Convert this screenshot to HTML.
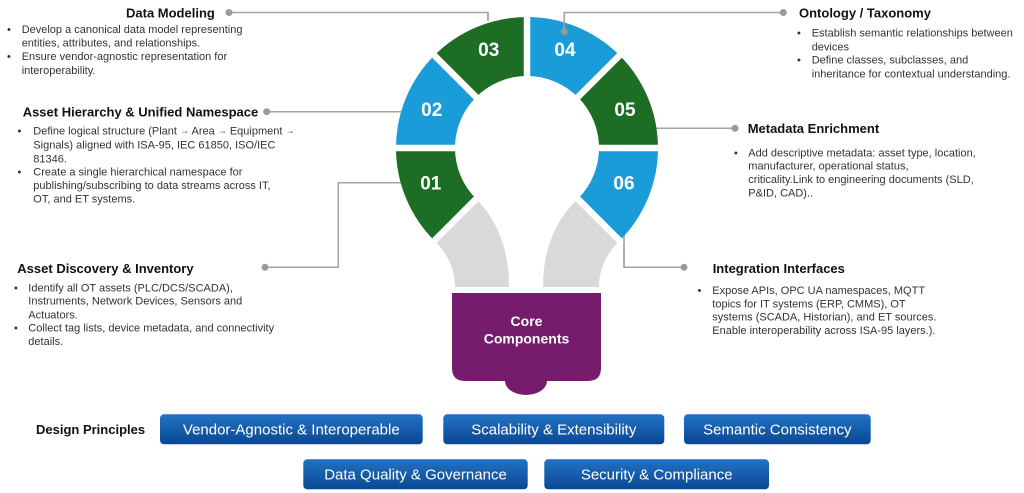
<!DOCTYPE html>
<html>
<head>
<meta charset="utf-8">
<style>
  html,body{margin:0;padding:0;background:#fff;}
  body{width:1024px;height:493px;overflow:hidden;}
  svg{display:block;}
  .t{font-family:"Liberation Sans",Arial,sans-serif;font-weight:bold;font-size:13px;fill:#111;}
  .b{font-family:"Liberation Sans",Arial,sans-serif;font-size:11px;fill:#333;}
  .n{font-family:"Liberation Sans",Arial,sans-serif;font-weight:bold;font-size:19px;fill:#fff;}
  .c{font-family:"Liberation Sans",Arial,sans-serif;font-weight:bold;font-size:14px;fill:#fff;}
  .btn{font-family:"Liberation Sans",Arial,sans-serif;font-size:15px;fill:#fff;}
  .ar{font-size:9px;}
</style>
</head>
<body>
<svg width="1024" height="493" viewBox="0 0 1024 493" xmlns="http://www.w3.org/2000/svg">
  <defs>
    <linearGradient id="bg" x1="0" y1="0" x2="0" y2="1">
      <stop offset="0" stop-color="#2273c4"/>
      <stop offset="1" stop-color="#0a4793"/>
    </linearGradient>
  </defs>

  <!-- connectors (under segments) -->
  <g stroke="#a3a3a3" stroke-width="1.5" fill="none">
    <polyline points="232,12.5 488,12.5 488,21"/>
    <polyline points="564.3,31.7 564.3,12.5 783,12.5"/>
    <polyline points="267,111.7 401,111.7"/>
    <polyline points="265,267.3 338.3,267.3 338.3,182.7 401,182.7"/>
    <polyline points="656,128.3 735,128.3"/>
    <polyline points="624,228 624,267.3 684,267.3"/>
  </g>

  <!-- gray neck -->
  <path d="M434.37,240.63 L476.09,198.91 Q509,232 509,287 L455,287 Q455,261 434.37,240.63 Z" fill="#d9d9d9"/>
  <path d="M619.63,240.63 L577.91,198.91 Q543,232 543,287 L599,287 Q599,261 619.63,240.63 Z" fill="#d9d9d9"/>

  <!-- ring segments -->
  <path d="M527,17 A131,131 0 0 0 434.37,55.37 L476.09,97.09 A72,72 0 0 1 527,76 Z" fill="#1e6d25"/>
  <path d="M619.63,55.37 A131,131 0 0 0 527,17 L527,76 A72,72 0 0 1 577.91,97.09 Z" fill="#199cd8"/>
  <path d="M434.37,55.37 A131,131 0 0 0 396,148 L455,148 A72,72 0 0 1 476.09,97.09 Z" fill="#199cd8"/>
  <path d="M658,148 A131,131 0 0 0 619.63,55.37 L577.91,97.09 A72,72 0 0 1 599,148 Z" fill="#1e6d25"/>
  <path d="M396,148 A131,131 0 0 0 434.37,240.63 L476.09,198.91 A72,72 0 0 1 455,148 Z" fill="#1e6d25"/>
  <path d="M619.63,240.63 A131,131 0 0 0 658,148 L599,148 A72,72 0 0 1 577.91,198.91 Z" fill="#199cd8"/>

  <!-- gaps -->
  <g stroke="#fff" stroke-width="6.5">
    <line x1="527" y1="148" x2="527" y2="12"/>
    <line x1="392" y1="148" x2="662" y2="148"/>
    <line x1="527" y1="148" x2="431" y2="52"/>
    <line x1="527" y1="148" x2="623" y2="52"/>
    <line x1="527" y1="148" x2="431" y2="244"/>
    <line x1="527" y1="148" x2="623" y2="244"/>
  </g>

  <!-- dots -->
  <g fill="#9a9a9a">
    <circle cx="229" cy="12.5" r="3.5"/>
    <circle cx="564.3" cy="31.7" r="3.5"/>
    <circle cx="783.3" cy="12.5" r="3.5"/>
    <circle cx="266.7" cy="111.7" r="3.5"/>
    <circle cx="265" cy="267.3" r="3.5"/>
    <circle cx="735" cy="128.3" r="3.5"/>
    <circle cx="684" cy="267.3" r="3.5"/>
  </g>
  <!-- connector stubs over segments -->
  <g stroke="#a3a3a3" stroke-width="1.5" fill="none">
    <line x1="488" y1="12.5" x2="488" y2="20"/>
    <line x1="564.3" y1="12.5" x2="564.3" y2="31"/>
    <line x1="624" y1="236" x2="624" y2="267.3"/>
  </g>

  <!-- numbers -->
  <text class="n" x="488.7" y="55.8" text-anchor="middle">03</text>
  <text class="n" x="565" y="55.8" text-anchor="middle">04</text>
  <text class="n" x="431.7" y="116.1" text-anchor="middle">02</text>
  <text class="n" x="625" y="116.1" text-anchor="middle">05</text>
  <text class="n" x="430.8" y="189.5" text-anchor="middle">01</text>
  <text class="n" x="624" y="189.5" text-anchor="middle">06</text>

  <!-- purple base -->
  <ellipse cx="526" cy="381" rx="21" ry="14" fill="#761c6c"/>
  <path d="M452,293 L601,293 L601,368 Q601,381 588,381 L465,381 Q452,381 452,368 Z" fill="#761c6c"/>
  <text class="c" x="526.5" y="326" text-anchor="middle">Core</text>
  <text class="c" x="526.5" y="343.5" text-anchor="middle">Components</text>

  <!-- Data Modeling -->
  <text class="t" x="126" y="17.3">Data Modeling</text>
  <text class="b" x="7" y="33">•</text>
  <text class="b" x="21.7" y="33">Develop a canonical data model representing</text>
  <text class="b" x="21.7" y="46.7">entities, attributes, and relationships.</text>
  <text class="b" x="7" y="60">•</text>
  <text class="b" x="21.7" y="60">Ensure vendor-agnostic representation for</text>
  <text class="b" x="21.7" y="74">interoperability.</text>

  <!-- Asset Hierarchy -->
  <text class="t" x="22.7" y="116.3">Asset Hierarchy &amp; Unified Namespace</text>
  <text class="b" x="17.5" y="134.7">•</text>
  <text class="b" x="33.3" y="134.7">Define logical structure (Plant <tspan class="ar" dy="-1">→</tspan><tspan dy="1"> Area </tspan><tspan class="ar" dy="-1">→</tspan><tspan dy="1"> Equipment </tspan><tspan class="ar" dy="-1">→</tspan></text>
  <text class="b" x="33.3" y="148.3">Signals) aligned with ISA-95, IEC 61850, ISO/IEC</text>
  <text class="b" x="33.3" y="162.3">81346.</text>
  <text class="b" x="17.5" y="175.7">•</text>
  <text class="b" x="33.3" y="175.7">Create a single hierarchical namespace for</text>
  <text class="b" x="33.3" y="189">publishing/subscribing to data streams across IT,</text>
  <text class="b" x="33.3" y="202.3">OT, and ET systems.</text>

  <!-- Asset Discovery -->
  <text class="t" x="17.3" y="272.9">Asset Discovery &amp; Inventory</text>
  <text class="b" x="14" y="291.7">•</text>
  <text class="b" x="28.3" y="291.7">Identify all OT assets (PLC/DCS/SCADA),</text>
  <text class="b" x="28.3" y="304.7">Instruments, Network Devices, Sensors and</text>
  <text class="b" x="28.3" y="318.3">Actuators.</text>
  <text class="b" x="14" y="331.7">•</text>
  <text class="b" x="28.3" y="331.7">Collect tag lists, device metadata, and connectivity</text>
  <text class="b" x="28.3" y="345">details.</text>

  <!-- Ontology -->
  <text class="t" x="799" y="17.3">Ontology / Taxonomy</text>
  <text class="b" x="797" y="36.3">•</text>
  <text class="b" x="811.7" y="36.3">Establish semantic relationships between</text>
  <text class="b" x="811.7" y="50.7">devices</text>
  <text class="b" x="797" y="63.3">•</text>
  <text class="b" x="811.7" y="63.3">Define classes, subclasses, and</text>
  <text class="b" x="811.7" y="77.3">inheritance for contextual understanding.</text>

  <!-- Metadata -->
  <text class="t" x="747.7" y="132.9">Metadata Enrichment</text>
  <text class="b" x="734" y="156.3">•</text>
  <text class="b" x="748.3" y="156.3">Add descriptive metadata: asset type, location,</text>
  <text class="b" x="748.3" y="169.7">manufacturer, operational status,</text>
  <text class="b" x="748.3" y="183">criticality.Link to engineering documents (SLD,</text>
  <text class="b" x="748.3" y="196.3">P&amp;ID, CAD)..</text>

  <!-- Integration -->
  <text class="t" x="712.7" y="272.9">Integration Interfaces</text>
  <text class="b" x="697.5" y="294">•</text>
  <text class="b" x="712.3" y="294">Expose APIs, OPC UA namespaces, MQTT</text>
  <text class="b" x="712.3" y="307.3">topics for IT systems (ERP, CMMS), OT</text>
  <text class="b" x="712.3" y="320.7">systems (SCADA, Historian), and ET sources.</text>
  <text class="b" x="712.3" y="334">Enable interoperability across ISA-95 layers.).</text>

  <!-- Design principles -->
  <text class="t" x="36" y="434">Design Principles</text>
  <rect x="160" y="414.3" width="262.7" height="30" rx="4" fill="url(#bg)"/>
  <text class="btn" x="291.3" y="434.7" text-anchor="middle">Vendor-Agnostic &amp; Interoperable</text>
  <rect x="443.3" y="414.3" width="221" height="30" rx="4" fill="url(#bg)"/>
  <text class="btn" x="553.8" y="434.7" text-anchor="middle">Scalability &amp; Extensibility</text>
  <rect x="684" y="414.3" width="186.7" height="30" rx="4" fill="url(#bg)"/>
  <text class="btn" x="777.3" y="434.7" text-anchor="middle">Semantic Consistency</text>
  <rect x="303.3" y="459.3" width="224.4" height="30" rx="4" fill="url(#bg)"/>
  <text class="btn" x="415.5" y="479.6" text-anchor="middle">Data Quality &amp; Governance</text>
  <rect x="544.3" y="459.3" width="224.7" height="30" rx="4" fill="url(#bg)"/>
  <text class="btn" x="656.7" y="479.6" text-anchor="middle">Security &amp; Compliance</text>
</svg>
</body>
</html>
